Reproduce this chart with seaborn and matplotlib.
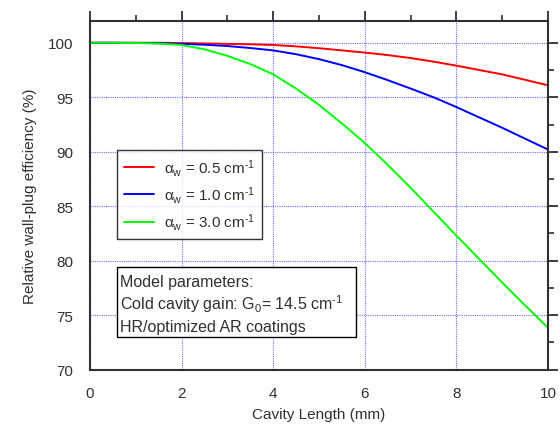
import numpy as np
import pandas as pd
import matplotlib
matplotlib.use("Agg")
import matplotlib.pyplot as plt
from matplotlib.patches import Rectangle
from matplotlib.ticker import MultipleLocator
import seaborn as sns

# cavity length (mm) and relative efficiency (%)
length = [0, 0.5, 1, 1.5, 2, 2.5, 3, 3.5, 4, 4.5, 5, 5.5, 6, 6.5, 7, 7.5, 8, 8.5, 9, 9.5, 10]
eff_05 = [100, 100, 100, 100, 99.97, 99.94, 99.9, 99.86, 99.8, 99.67, 99.5, 99.3, 99.1,
          98.87, 98.6, 98.27, 97.9, 97.5, 97.1, 96.6, 96.1]
eff_10 = [100, 100, 99.99, 99.96, 99.9, 99.82, 99.7, 99.52, 99.3, 98.95, 98.5, 97.95, 97.3,
          96.57, 95.8, 95.0, 94.1, 93.15, 92.2, 91.2, 90.2]
eff_30 = [100, 100, 99.98, 99.93, 99.8, 99.4, 98.8, 98.05, 97.1, 95.8, 94.3, 92.6, 90.8,
          88.8, 86.7, 84.5, 82.3, 80.15, 78.0, 75.9, 73.85]
series_labels = [r"$\alpha_\mathrm{w}$ = 0.5 cm$^{\text{-1}}$",
                 r"$\alpha_\mathrm{w}$ = 1.0 cm$^{\text{-1}}$",
                 r"$\alpha_\mathrm{w}$ = 3.0 cm$^{\text{-1}}$"]
colors = ["#ff0000", "#0000ff", "#00ff00"]
box_lines = ["Model parameters:",
             r"Cold cavity gain: G$_0$= 14.5 cm$^{\text{-1}}$",
             "HR/optimized AR coatings"]

df = pd.DataFrame({
    "L": length * 3,
    "eff": eff_05 + eff_10 + eff_30,
    "loss": [series_labels[0]] * len(length) + [series_labels[1]] * len(length)
            + [series_labels[2]] * len(length),
})

sns.set_style("white")
plt.rcParams["font.family"] = ["Liberation Sans", "DejaVu Sans"]
plt.rcParams["mathtext.fontset"] = "custom"
plt.rcParams["mathtext.rm"] = "Liberation Sans"
plt.rcParams["mathtext.it"] = "Liberation Sans:italic"
plt.rcParams["mathtext.default"] = "rm"

fig = plt.figure(figsize=(5.6, 4.31), dpi=100)
ax = fig.add_axes([0.1607, 0.1399, 0.8179, 0.8091])

sns.lineplot(data=df, x="L", y="eff", hue="loss", palette=colors, linewidth=1.4,
             ax=ax, legend=False)

ax.set_xlim(0, 10)
ax.set_ylim(70, 102)
ax.xaxis.set_major_locator(MultipleLocator(2))
ax.xaxis.set_minor_locator(MultipleLocator(1))
ax.yaxis.set_major_locator(MultipleLocator(5))
ax.yaxis.set_minor_locator(MultipleLocator(2.5))
ax.grid(True, which="major", color="#6f6fff", linestyle=(0, (1, 1)), linewidth=0.8)
ax.set_axisbelow(True)

for sp in ax.spines.values():
    sp.set_color("#303030")
    sp.set_linewidth(1.5)
ax.tick_params(which="both", direction="out", top=True, right=True, color="#303030",
               labelsize=11, labelcolor="#303030")
ax.tick_params(which="major", length=7.5, width=1.3, pad=4.5)
ax.tick_params(which="minor", length=4, width=1.2)

ax.set_xlabel("Cavity Length (mm)", fontsize=11, color="#303030", labelpad=5)
ax.set_ylabel("Relative wall-plug efficiency (%)", fontsize=11, color="#303030", labelpad=8)

handles = ax.get_lines()[:3]
leg = ax.legend(handles, series_labels, loc="upper left", bbox_to_anchor=(0.059, 0.631),
                fontsize=11, frameon=True, fancybox=False, edgecolor="black",
                handlelength=2.0, handletextpad=0.6, labelspacing=0.42, borderpad=0.45,
                borderaxespad=0)
leg.get_frame().set_linewidth(1.0)
for t in leg.get_texts():
    t.set_color("#303030")

ax.add_patch(Rectangle((0.059, 0.0929), 0.521, 0.2008, transform=ax.transAxes,
                       facecolor="white", edgecolor="black", linewidth=1.0, zorder=5))
for i, line in enumerate(box_lines):
    ax.text(0.0645, 0.2409 - i * 0.0654, line, transform=ax.transAxes, fontsize=11.5,
            color="#303030", va="baseline", ha="left", zorder=6)

fig.savefig("out.png", dpi=100)
